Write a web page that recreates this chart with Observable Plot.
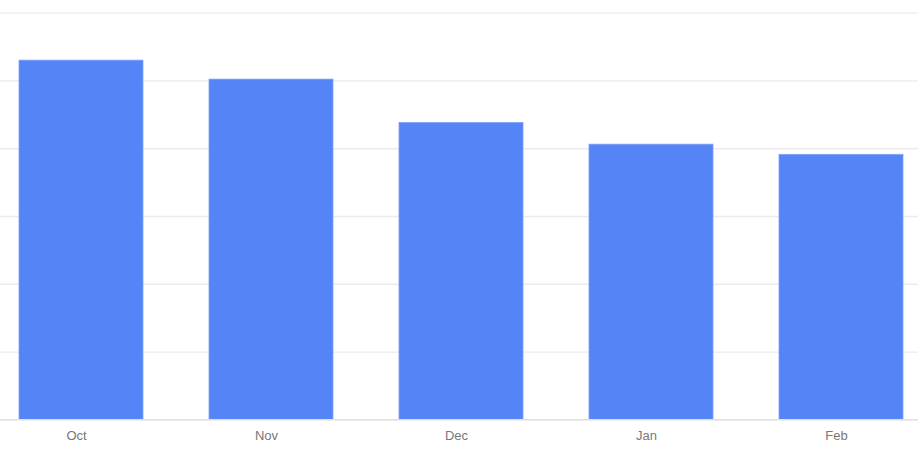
<!DOCTYPE html>
<html>
<head>
<meta charset="utf-8">
<script src="https://cdn.jsdelivr.net/npm/d3@7"></script>
<script src="https://cdn.jsdelivr.net/npm/@observablehq/plot@0.6"></script>
<style>
  html, body { margin: 0; padding: 0; background: #fff; }
  #chart svg { display: block; }
</style>
</head>
<body>
<div id="chart"></div>
<script>
const months = ["Oct", "Nov", "Dec", "Jan", "Feb"];
const values = [5.30, 5.02, 4.38, 4.06, 3.91];
const gridTicks = [1, 2, 3, 4, 5, 6];

const data = months.map((m, i) => ({month: m, value: values[i]}));

const chart = Plot.plot({
  width: 918,
  height: 457,
  marginLeft: 0,
  marginRight: 0,
  marginTop: 0,
  marginBottom: 0,
  style: {fontFamily: "'Liberation Sans', Arial, sans-serif", fontSize: "13px", background: "#fff"},
  x: {domain: months, range: [16.9, 905.9], paddingInner: 0.345, paddingOuter: 0, label: null, axis: null},
  y: {domain: [0, 6], range: [419.3, 12.7], label: null, axis: null},
  marks: [
    Plot.ruleY(gridTicks, {stroke: "#ebebeb", strokeWidth: 1.3}),
    Plot.barY(data, {x: "month", y: "value", fill: "#5484f6", stroke: "#7ea2f8", strokeWidth: 0.8}),
    Plot.ruleY([0], {stroke: "#dedede", strokeWidth: 1.5}),
    Plot.text(months, {x: d => d, y: 0, dy: 16, dx: -5, fill: "#777", fontSize: 13, lineAnchor: "middle"})
  ]
});
document.getElementById("chart").appendChild(chart);
</script>
</body>
</html>
